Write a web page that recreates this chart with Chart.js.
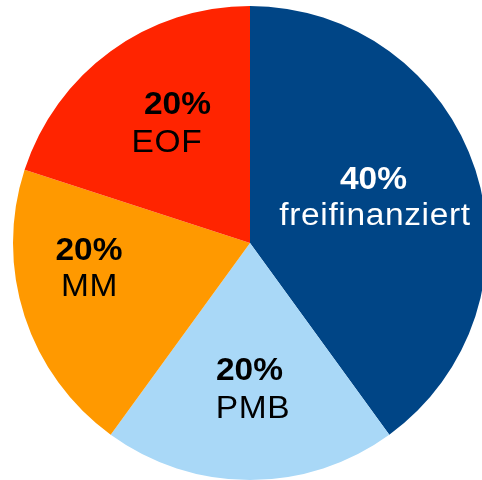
<!DOCTYPE html>
<html>
<head>
<meta charset="utf-8">
<script src="https://cdn.jsdelivr.net/npm/chart.js@4/dist/chart.umd.min.js"></script>
<style>
  html, body { margin: 0; padding: 0; background: #ffffff; overflow: hidden; width: 482px; height: 480px; }
  canvas { display: block; }
</style>
</head>
<body>
<canvas id="c" width="500" height="486" style="width:500px;height:486px"></canvas>
<script>
const categories = ["freifinanziert", "PMB", "MM", "EOF"];
const shares = [40, 20, 20, 20];
const percentLabels = ["40%", "20%", "20%", "20%"];
const sliceColors = ["#004586", "#A9D8F7", "#FF9900", "#FF2400"];
const textColors = ["#ffffff", "#000000", "#000000", "#000000"];

// label layout: offsets from pie centre (line1 dx, line1 baseline dy, line2 dx, line2 baseline dy)
const labelLayout = [
  [123.5, -54, 125, -18],
  [-0.5, 137, 3, 175],
  [-161, 17, -160.5, 53],
  [-72.5, -129, -83, -91]
];

const labelPlugin = {
  id: "sliceLabels",
  afterDatasetsDraw(chart) {
    const ctx = chart.ctx;
    const meta = chart.getDatasetMeta(0);
    meta.data.forEach((arc, i) => {
      const L = labelLayout[i];
      const lines = [
        { text: percentLabels[i], bold: true, dx: L[0], dy: L[1] },
        { text: categories[i], bold: false, dx: L[2], dy: L[3] }
      ];
      lines.forEach(ln => {
        ctx.save();
        ctx.translate(arc.x + ln.dx, arc.y + ln.dy);
        ctx.scale(1.08, 1);
        ctx.font = (ln.bold ? "bold " : "") + "31px 'Liberation Sans', Arial, sans-serif";
        if (!ln.bold && "letterSpacing" in ctx) ctx.letterSpacing = "0.6px";
        ctx.fillStyle = textColors[i];
        ctx.textAlign = "center";
        ctx.textBaseline = "alphabetic";
        ctx.fillText(ln.text, 0, 0);
        ctx.restore();
      });
    });
  }
};

new Chart(document.getElementById("c"), {
  type: "pie",
  data: {
    labels: categories,
    datasets: [{
      data: shares,
      backgroundColor: sliceColors,
      borderWidth: 0,
      hoverOffset: 0
    }]
  },
  options: {
    responsive: false,
    animation: false,
    layout: { padding: 6 },
    plugins: {
      legend: { display: false },
      tooltip: { enabled: false }
    }
  },
  plugins: [labelPlugin]
});
</script>
</body>
</html>
